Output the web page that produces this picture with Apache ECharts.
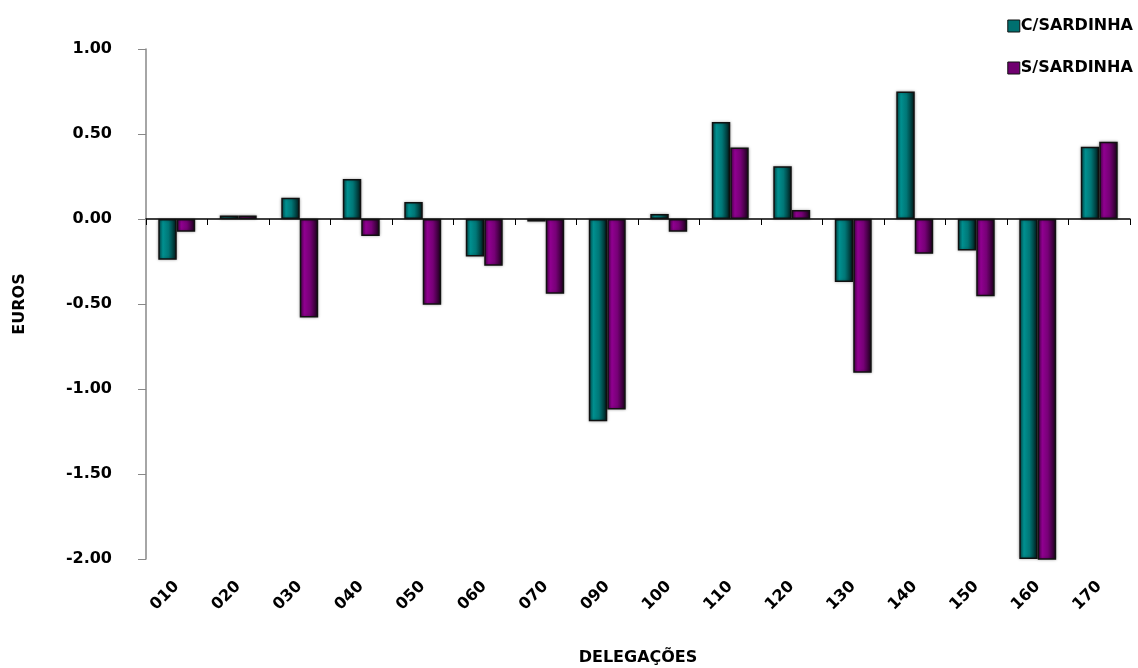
<!DOCTYPE html>
<html><head><meta charset="utf-8">
<script src="https://cdn.jsdelivr.net/npm/echarts@6/dist/echarts.min.js"></script>
<style>html,body{margin:0;padding:0;background:#fff}#c{width:1138px;height:668px}</style>
</head><body><div id="c"></div>
<script>
const categories = ['010','020','030','040','050','060','070','090','100','110','120','130','140','150','160','170'];
const cSardinha = [-0.24, 0.02, 0.125, 0.235, 0.10, -0.22, -0.015, -1.19, 0.03, 0.57, 0.31, -0.37, 0.75, -0.185, -2.00, 0.425];
const sSardinha = [-0.075, 0.02, -0.58, -0.10, -0.505, -0.275, -0.44, -1.12, -0.075, 0.42, 0.053, -0.905, -0.205, -0.455, -2.01, 0.455];
const yTicks = [-2, -1.5, -1, -0.5, 0, 0.5, 1];

const FONT = '"DejaVu Sans"';
function grad(dark, mid, light, edge) {
  return new echarts.graphic.LinearGradient(0, 0, 1, 0, [
    {offset: 0, color: dark}, {offset: 0.25, color: light}, {offset: 0.55, color: mid}, {offset: 1, color: edge}
  ]);
}
const chart = echarts.init(document.getElementById('c'));
chart.setOption({
  animation: false,
  backgroundColor: '#fff',
  textStyle: {fontFamily: FONT},
  grid: {left: 146, right: 8, top: 49, bottom: 109, containLabel: false, outerBoundsMode: 'none'},
  legend: {
    orient: 'vertical', right: 0, top: 13, itemWidth: 12, itemHeight: 12, itemGap: 26,
    icon: 'rect',
    textStyle: {fontFamily: FONT, fontWeight: 'bold', fontSize: 16, color: '#000', padding: [0,0,0,-4]},
    data: [
      {name: 'C/SARDINHA', itemStyle: {color: '#007070', borderColor: '#111', borderWidth: 1}},
      {name: 'S/SARDINHA', itemStyle: {color: '#700070', borderColor: '#111', borderWidth: 1}}
    ]
  },
  xAxis: [
    {
      type: 'category', data: categories, position: 'bottom',
      axisLine: {show: false, onZero: false}, axisTick: {show: false},
      axisLabel: {rotate: 45, fontFamily: FONT, fontWeight: 'bold', fontSize: 16, color: '#000', margin: 25},
      name: 'DELEGAÇÕES', nameLocation: 'middle', nameGap: 91,
      nameTextStyle: {fontFamily: FONT, fontWeight: 'bold', fontSize: 16, color: '#000'}
    },
    {
      type: 'category', data: categories, position: 'top',
      axisLine: {show: true, onZero: true, lineStyle: {color: '#000', width: 1.5}},
      axisTick: {show: true, inside: true, length: 6, lineStyle: {color: '#000'}},
      axisLabel: {show: false}
    }
  ],
  yAxis: {
    type: 'value', min: -2, max: 1, interval: 0.5,
    axisLine: {show: true, lineStyle: {color: '#888', width: 1.5}},
    axisTick: {show: true, length: 8, lineStyle: {color: '#888'}},
    splitLine: {show: false},
    axisLabel: {fontFamily: FONT, fontWeight: 'bold', fontSize: 16, color: '#000', margin: 34,
      formatter: v => v.toFixed(2)},
    name: 'EUROS', nameLocation: 'middle', nameGap: 118, nameRotate: 90,
    nameTextStyle: {fontFamily: FONT, fontWeight: 'bold', fontSize: 16, color: '#000'}
  },
  series: [
    {
      name: 'C/SARDINHA', type: 'bar', xAxisIndex: 0, data: cSardinha,
      barGap: '0%', barCategoryGap: '40%',
      itemStyle: {color: grad('#004848', '#007777', '#009090', '#001a1a'), borderColor: '#111', borderWidth: 1.5,
        shadowColor: 'rgba(0,0,0,0.35)', shadowBlur: 3}
    },
    {
      name: 'S/SARDINHA', type: 'bar', xAxisIndex: 0, data: sSardinha,
      itemStyle: {color: grad('#480048', '#770077', '#900090', '#1a001a'), borderColor: '#111', borderWidth: 1.5,
        shadowColor: 'rgba(0,0,0,0.35)', shadowBlur: 3}
    }
  ]
});
</script></body></html>
